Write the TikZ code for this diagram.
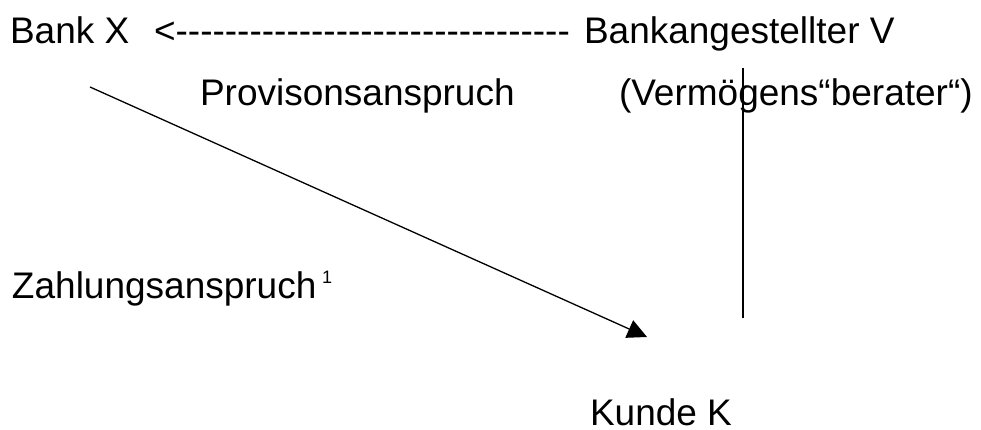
\documentclass[tikz,border=0pt]{standalone}
\usepackage{fontspec}
\setmainfont{Liberation Sans}[Ligatures=TeXOff]
\usetikzlibrary{arrows.meta}

\begin{document}
\begin{tikzpicture}[x=1pt, y=-1pt,
  label text/.style={anchor=base west, inner sep=0pt, outer sep=0pt,
    font=\fontsize{37}{44}\selectfont},
  small text/.style={anchor=base west, inner sep=0pt, outer sep=0pt,
    font=\fontsize{18}{21}\selectfont},
  rule line/.style={line width=1.3pt, black},
  claim arrow/.style={rule line, -{Triangle[length=19.5pt, width=19pt]}}]

  \useasboundingbox (0,0) rectangle (981,430);

  % first row: bank, dashed textual arrow, employee
  \node[label text] (bank) at (10,44) {Bank X};
  \node[label text] (dashes) at (154,44) {<--------------------------------};
  \node[label text] (employee) at (584,44) {Bankangestellter V};

  % second row
  \node[label text] (provision) at (200,106) {Provisonsanspruch};
  \node[label text] (advisor) at (619,106) {(Vermögens“berater“)};

  % left label with footnote mark
  \node[label text] (payment) at (12,298) {Zahlungsanspruch};
  \node[small text] (footnote) at (322,283) {1};

  % customer
  \node[label text] (customer) at (590,425) {Kunde K};

  % connector ends
  \coordinate (diagStart) at (90,87);
  \coordinate (diagEnd) at (647,337);
  \coordinate (vertTop) at (743,68);
  \coordinate (vertBottom) at (743,318);

  \draw[claim arrow] (diagStart) -- (diagEnd);
  \draw[rule line] (vertTop) -- (vertBottom);
\end{tikzpicture}
\end{document}
